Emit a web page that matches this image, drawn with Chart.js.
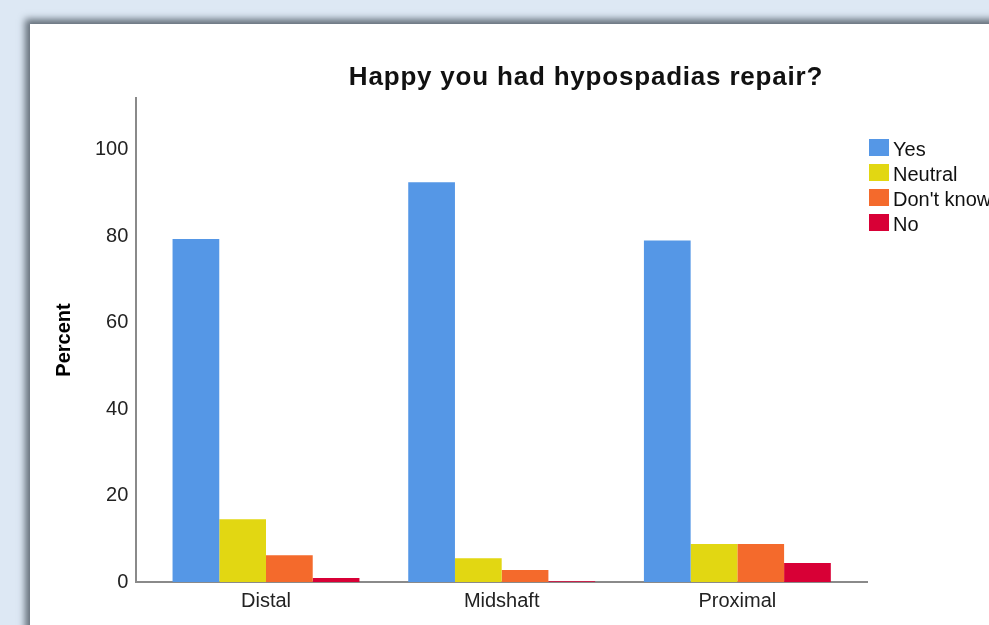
<!DOCTYPE html>
<html>
<head>
<meta charset="utf-8">
<script src="https://cdn.jsdelivr.net/npm/chart.js@4"></script>
<style>
  html, body { margin: 0; padding: 0; }
  body {
    width: 989px; height: 625px; overflow: hidden; position: relative;
    background: #dde8f4; font-family: "Liberation Sans", Arial, sans-serif;
  }
  #panel {
    position: absolute; left: 30px; top: 24px; width: 1000px; height: 700px;
    background: #fff; box-shadow: -4px -4px 7px 1px #66717c;
  }
  #title {
    position: absolute; left: 0; width: 1172px; top: 61px; text-align: center;
    font-weight: bold; font-size: 26px; letter-spacing: 0.8px; color: #111; white-space: nowrap;
  }
  #legend { position: absolute; left: 869px; top: 139px; white-space: nowrap; }
  .item { height: 25px; position: relative; }
  .box { position: absolute; left: 0; top: 0; width: 20px; height: 17px; }
  .lbl { position: absolute; left: 24px; top: -1px; font-size: 20px; color: #111; }
  canvas { position: absolute; left: 30px; top: 24px; }
</style>
</head>
<body>
<div id="panel"></div>
<canvas id="chart" width="959" height="601"></canvas>
<div id="title">Happy you had hypospadias repair?</div>
<div id="legend"></div>
<script>
// categories
const categories = ['Distal', 'Midshaft', 'Proximal'];
// answers, percent per category
const seriesNames = ['Yes', 'Neutral', "Don't know", 'No'];
const yesVals = [79.4, 92.5, 79.0];
const neutralVals = [14.5, 5.5, 8.8];
const dontKnowVals = [6.2, 2.8, 8.8];
const noVals = [0.9, 0.15, 4.4];
const colors = ['#5597e6', '#e2d712', '#f46a2c', '#d80036'];
const yTicks = [0, 20, 40, 60, 80, 100];

const allVals = [yesVals, neutralVals, dontKnowVals, noVals];

const ctx = document.getElementById('chart').getContext('2d');
new Chart(ctx, {
    type: 'bar',
    data: {
        datasets: seriesNames.map((name, i) => ({
            label: name,
            data: allVals[i].map((v, j) => ({ x: j, y: v })),
            backgroundColor: colors[i],
            borderWidth: 0,
            categoryPercentage: 0.793,
            barPercentage: 1.0
        }))
    },
    options: {
        responsive: false,
        animation: false,
        layout: { padding: { left: 22, right: 122, top: 74, bottom: 5 } },
        plugins: {
            legend: { display: false },
            title: { display: false },
            tooltip: { enabled: false }
        },
        scales: {
            x: {
                type: 'linear',
                offset: false,
                min: -0.55,
                max: 2.55,
                afterBuildTicks: (axis) => {
                    axis.ticks = categories.map((c, j) => ({ value: j }));
                },
                grid: { display: false, drawTicks: false },
                border: { display: true, color: '#8a8a8a', width: 2 },
                ticks: {
                    padding: 7,
                    color: '#222',
                    font: { family: 'Liberation Sans', size: 20 },
                    callback: (v) => categories[v]
                }
            },
            y: {
                min: 0,
                max: 112,
                afterBuildTicks: (axis) => {
                    axis.ticks = yTicks.map(v => ({ value: v }));
                },
                grid: { display: false, drawTicks: false },
                border: { display: true, color: '#8a8a8a', width: 2 },
                ticks: {
                    padding: 8,
                    color: '#222',
                    font: { family: 'Liberation Sans', size: 20 }
                },
                title: {
                    display: true,
                    text: 'Percent',
                    color: '#000',
                    padding: { top: 0, bottom: 11 },
                    font: { family: 'Liberation Sans', size: 20, weight: 'bold' }
                }
            }
        }
    }
});

// legend built from the same names and colours
const legend = document.getElementById('legend');
seriesNames.forEach((name, i) => {
    const row = document.createElement('div');
    row.className = 'item';
    row.innerHTML = '<div class="box" style="background:' + colors[i] + '"></div><div class="lbl">' + name + '</div>';
    legend.appendChild(row);
});
</script>
</body>
</html>
